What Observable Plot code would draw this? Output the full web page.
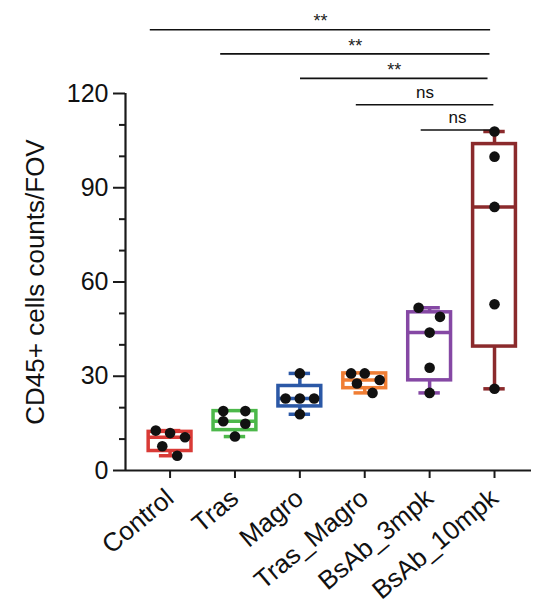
<!DOCTYPE html>
<html>
<head>
<meta charset="utf-8">
<script src="https://cdn.jsdelivr.net/npm/d3@7"></script>
<script src="https://cdn.jsdelivr.net/npm/@observablehq/plot@0.6"></script>
<style>
  html, body { margin: 0; padding: 0; background: #fff; }
  #chart svg { display: block; }
</style>
</head>
<body>
<div id="chart"></div>
<script>
// ---- data ----
const groups = ["Control", "Tras", "Magro", "Tras_Magro", "BsAb_3mpk", "BsAb_10mpk"];
const groupColors = ["#d93a36", "#4cb84a", "#2b58a6", "#f07e34", "#8548a4", "#8b2a2c"];

const control   = [12.7, 11.9, 10.6, 7.7, 4.7];
const tras      = [18.9, 18.9, 15.7, 14.9, 10.8];
const magro     = [30.9, 22.9, 22.9, 22.9, 17.9];
const trasMagro = [30.9, 30.9, 27.7, 28.8, 24.7];
const bsab3     = [51.8, 48.9, 43.9, 32.7, 24.7];
const bsab10    = [107.9, 99.9, 83.9, 52.9, 26.0];

// horizontal scatter spread of each dot (in category units)
const jitter = [
  [-0.22, 0, 0.23, -0.12, 0.11],
  [-0.18, 0.16, -0.18, 0.16, 0],
  [0, -0.22, 0, 0.22, 0],
  [-0.21, 0, -0.12, 0.23, 0.12],
  [-0.17, 0.16, 0, 0, 0],
  [0, 0, 0, 0, 0]
];

// significance comparisons
const sigStart = [-0.305, 0.78, 2.01, 2.87, 3.87];
const sigEnd   = [4.94, 4.93, 4.90, 4.99, 4.99];
const sigLevel = [140.3, 132.6, 124.8, 116.4, 108.4];
const sigLabel = ["**", "**", "**", "ns", "ns"];

const yTicks = [0, 30, 60, 90, 120];
const yMinorTicks = [10, 20, 40, 50, 70, 80, 100, 110];

// ---- derived tables ----
const series = [control, tras, magro, trasMagro, bsab3, bsab10];

function quant(sorted, p) { // GraphPad-style (n+1)p percentile
  const n = sorted.length;
  let pos = (n + 1) * p;
  if (pos <= 1) return sorted[0];
  if (pos >= n) return sorted[n - 1];
  const lo = Math.floor(pos), f = pos - lo;
  return sorted[lo - 1] + f * (sorted[lo] - sorted[lo - 1]);
}

const stats = series.map((vals, i) => {
  const s = vals.slice().sort((a, b) => a - b);
  return {
    i, color: groupColors[i],
    min: s[0], max: s[s.length - 1],
    q1: quant(s, 0.25), med: quant(s, 0.5), q3: quant(s, 0.75)
  };
});

const points = series.flatMap((vals, i) =>
  vals.map((v, j) => ({x: i + jitter[i][j], y: v}))
);

const sig = sigLabel.map((label, k) => ({
  x1: sigStart[k], x2: sigEnd[k], y: sigLevel[k], label
}));

const xDomain = [-0.687, 5.57];
const boxHalf = 0.33, capHalf = 0.165;
const axisColor = "#1a1a1a";

const chart = Plot.plot({
  width: 533,
  height: 609,
  marginLeft: 125,
  marginRight: 2,
  marginTop: 93,
  marginBottom: 139,
  style: {fontFamily: "'Liberation Sans', Arial, sans-serif", background: "#fff", color: "#111"},
  x: {type: "linear", domain: xDomain, axis: null},
  y: {domain: [0, 120], axis: null},
  color: {type: "identity"},
  marks: [
    // axes
    Plot.axisY(yTicks, {tickSize: 12, tickPadding: 5, fontSize: 25, stroke: axisColor, strokeWidth: 2, fill: "#111", label: null}),
    Plot.axisY(yMinorTicks, {tickSize: 6, tickFormat: () => "", stroke: axisColor, strokeWidth: 2, label: null}),
    Plot.axisX(d3.range(groups.length), {
      tickFormat: i => groups[i], tickRotate: -40, tickSize: 8, tickPadding: 16,
      fontSize: 26, stroke: axisColor, strokeWidth: 2, fill: "#111", label: null
    }),
    Plot.ruleX([xDomain[0]], {y1: 0, y2: 120, stroke: axisColor, strokeWidth: 2.2}),
    Plot.ruleY([0], {x1: xDomain[0], x2: xDomain[1], stroke: axisColor, strokeWidth: 2.2}),
    Plot.text(["CD45+ cells counts/FOV"], {frameAnchor: "left", textAnchor: "middle", dx: -90, rotate: -90, fontSize: 26, fill: "#111"}),

    // whiskers
    Plot.ruleX(stats, {x: "i", y1: "q3", y2: "max", stroke: "color", strokeWidth: 3.5}),
    Plot.ruleX(stats, {x: "i", y1: "q1", y2: "min", stroke: "color", strokeWidth: 3.5}),
    Plot.ruleY(stats, {y: "max", x1: d => d.i - capHalf, x2: d => d.i + capHalf, stroke: "color", strokeWidth: 3.5}),
    Plot.ruleY(stats, {y: "min", x1: d => d.i - capHalf, x2: d => d.i + capHalf, stroke: "color", strokeWidth: 3.5}),
    // boxes
    Plot.rect(stats, {x1: d => d.i - boxHalf, x2: d => d.i + boxHalf, y1: "q1", y2: "q3", fill: "white", stroke: "color", strokeWidth: 3.5}),
    Plot.ruleY(stats, {y: "med", x1: d => d.i - boxHalf, x2: d => d.i + boxHalf, stroke: "color", strokeWidth: 3.5}),

    // dots
    Plot.dot(points, {x: "x", y: "y", r: 5.3, fill: "#111", stroke: "none"}),

    // significance bars
    Plot.ruleY(sig, {y: "y", x1: "x1", x2: "x2", stroke: "#111", strokeWidth: 1.6}),
    Plot.text(sig.filter(d => d.label !== "ns"), {x: d => (d.x1 + d.x2) / 2, y: "y", text: "label", dy: -8, fontSize: 18, fill: "#222"}),
    Plot.text(sig.filter(d => d.label === "ns"), {x: d => (d.x1 + d.x2) / 2, y: "y", text: "label", dy: -12, fontSize: 17, fill: "#111"})
  ]
});

document.getElementById("chart").appendChild(chart);
</script>
</body>
</html>
